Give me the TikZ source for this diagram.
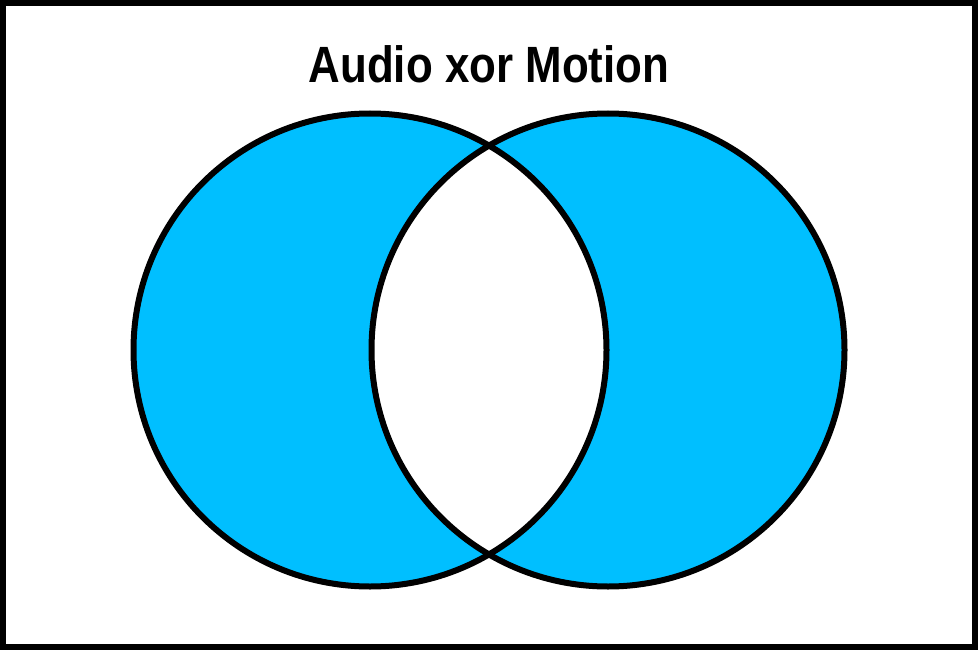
\documentclass[tikz,border=0pt]{standalone}
\usepackage{fontspec}
\newfontfamily\titlefont[FakeStretch=0.86]{Liberation Sans}
\definecolor{setcyan}{RGB}{0, 191, 255}

\begin{document}
\begin{tikzpicture}[x=1pt, y=-1pt, line width=6pt]
    % Dimensions
    \def\r{236.5} % radius of both sets
    \def\la{370}  % centre of the audio set
    \def\mo{608}  % centre of the motion set
    \def\cy{350}  % common height of both centres

    % frame
    \useasboundingbox (0,0) rectangle (978,650);
    \draw[line width=6pt] (3,3) rectangle (975,647);

    % 1. Symmetric difference (shaded area)
    \fill[setcyan, even odd rule] (\la,\cy) circle (\r) (\mo,\cy) circle (\r);

    % 2. Set outlines
    \draw (\la,\cy) circle (\r);
    \draw (\mo,\cy) circle (\r);

    % title
    \node (title) at (489,64) {\titlefont\bfseries\fontsize{51}{60}\selectfont Audio xor Motion};
\end{tikzpicture}
\end{document}
